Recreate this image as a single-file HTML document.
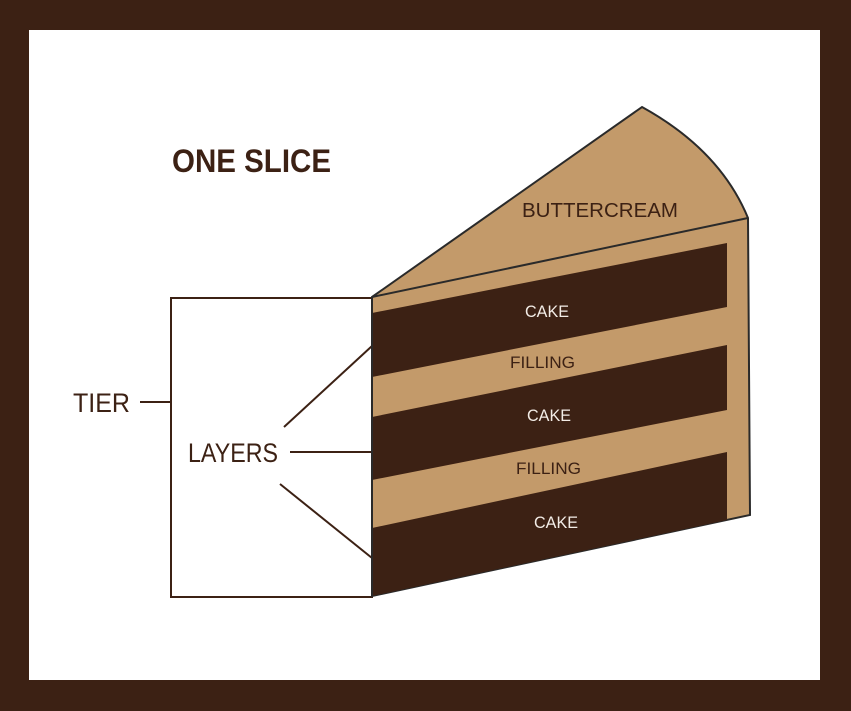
<!DOCTYPE html>
<html><head><style>
html,body{margin:0;padding:0;background:#3c2114;}
svg{display:block;}
text{font-family:"Liberation Sans",sans-serif;}
</style></head><body>
<svg width="851" height="711" viewBox="0 0 851 711" xmlns="http://www.w3.org/2000/svg">
<rect x="0" y="0" width="851" height="711" fill="#3c2114"/>
<rect x="29" y="30" width="791" height="650" fill="#ffffff"/>
<text x="172" y="172" font-size="32" font-weight="bold" fill="#3c2114" textLength="159" lengthAdjust="spacingAndGlyphs">ONE SLICE</text>
<!-- box -->
<rect x="171" y="298" width="201" height="299" fill="none" stroke="#3c2114" stroke-width="2"/>
<line x1="140" y1="402" x2="171" y2="402" stroke="#3c2114" stroke-width="2"/>
<text x="73" y="412" font-size="27" fill="#3c2114" textLength="57" lengthAdjust="spacingAndGlyphs">TIER</text>
<text x="188" y="462" font-size="27" fill="#3c2114" textLength="90" lengthAdjust="spacingAndGlyphs">LAYERS</text>
<line x1="284" y1="427" x2="372" y2="346" stroke="#3c2114" stroke-width="2"/>
<line x1="290" y1="452" x2="372" y2="452" stroke="#3c2114" stroke-width="2"/>
<line x1="280" y1="484" x2="372" y2="558" stroke="#3c2114" stroke-width="2"/>
<!-- slice -->
<path d="M372,297 L642,107 Q720,150 748,218 L750,515 L372,596 Z" fill="#c39a6a" stroke="#2a2a2a" stroke-width="2"/>
<line x1="372" y1="297" x2="748" y2="218" stroke="#2a2a2a" stroke-width="2"/>
<polygon points="372,313 727,243 727,307 372,377" fill="#3c2114"/>
<polygon points="372,417 727,345 727,410 372,480" fill="#3c2114"/>
<polygon points="372,528 727,452 727,520 372,596" fill="#3c2114"/>
<line x1="372" y1="297" x2="372" y2="596" stroke="#2a2a2a" stroke-width="2"/>
<text x="522" y="217" font-size="20" fill="#3c2114" textLength="156" lengthAdjust="spacingAndGlyphs">BUTTERCREAM</text>
<text x="525" y="317" font-size="17" fill="#f2ece6" textLength="44" lengthAdjust="spacingAndGlyphs">CAKE</text>
<text x="510" y="368" font-size="17" fill="#3c2114" textLength="65" lengthAdjust="spacingAndGlyphs">FILLING</text>
<text x="527" y="421" font-size="17" fill="#f2ece6" textLength="44" lengthAdjust="spacingAndGlyphs">CAKE</text>
<text x="516" y="474" font-size="17" fill="#3c2114" textLength="65" lengthAdjust="spacingAndGlyphs">FILLING</text>
<text x="534" y="528" font-size="17" fill="#f2ece6" textLength="44" lengthAdjust="spacingAndGlyphs">CAKE</text>
</svg>
</body></html>
